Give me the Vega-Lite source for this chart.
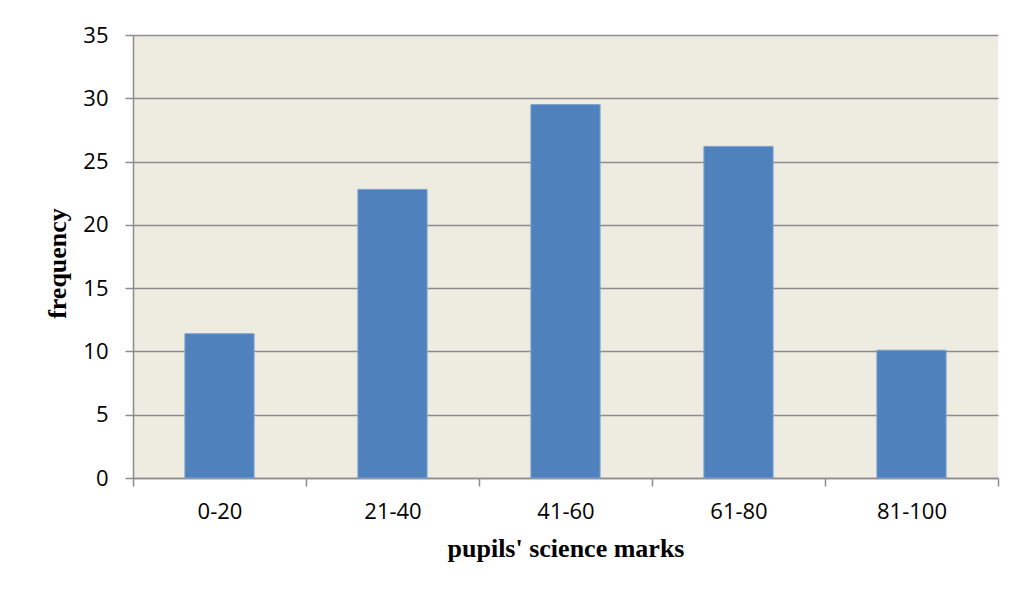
{
  "$schema": "https://vega.github.io/schema/vega-lite/v6.json",
  "autosize": "none",
  "width": 865,
  "height": 443,
  "padding": {"left": 133, "top": 35, "right": 28, "bottom": 115},
  "background": "white",
  "data": {"values": [
    {"range": "0-20", "frequency": 11.4},
    {"range": "21-40", "frequency": 22.8},
    {"range": "41-60", "frequency": 29.5},
    {"range": "61-80", "frequency": 26.2},
    {"range": "81-100", "frequency": 10.1}
  ]},
  "mark": {"type": "bar", "color": "#4F81BD", "stroke": "#7FA3D0", "strokeWidth": 1, "width": {"band": 0.4}},
  "encoding": {
    "x": {
      "field": "range", "type": "nominal", "sort": null,
      "scale": {"paddingInner": 0, "paddingOuter": 0},
      "axis": {
        "title": "pupils' science marks",
        "labelAngle": 0,
        "tickBand": "extent",
        "grid": false,
        "labelFont": "Open Sans", "labelFontSize": 22, "labelColor": "#000000",
        "labelPadding": 15,
        "tickSize": 8, "tickColor": "#8C8C8C", "tickWidth": 1.5,
        "domainColor": "#8C8C8C", "domainWidth": 1.5,
        "titleFont": "Liberation Serif", "titleFontSize": 26, "titleFontWeight": "bold", "titleColor": "#000000",
        "titlePadding": 13
      }
    },
    "y": {
      "field": "frequency", "type": "quantitative",
      "scale": {"domain": [0, 35]},
      "axis": {
        "title": "frequency",
        "values": [0, 5, 10, 15, 20, 25, 30, 35],
        "grid": true, "gridColor": "#8C8C8C", "gridWidth": 1.5,
        "labelFont": "Open Sans", "labelFontSize": 22, "labelColor": "#000000",
        "labelPadding": 17,
        "tickSize": 8, "tickColor": "#8C8C8C", "tickWidth": 1.5,
        "domainColor": "#8C8C8C", "domainWidth": 1.5,
        "titleFont": "Liberation Serif", "titleFontSize": 26, "titleFontWeight": "bold", "titleColor": "#000000",
        "titlePadding": 12,
        "titleY": 228
      }
    }
  },
  "config": {
    "view": {"fill": "#EEEBE0", "stroke": null}
  }
}
